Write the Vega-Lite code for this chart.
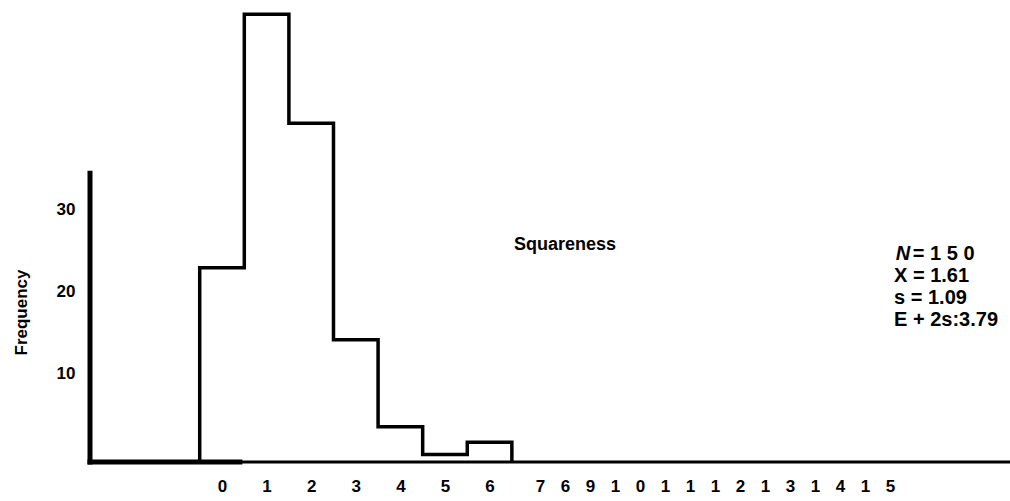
{
  "$schema": "https://vega.github.io/schema/vega-lite/v6.json",
  "width": 920,
  "height": 456,
  "padding": {"left": 90, "top": 6, "right": 0, "bottom": 39},
  "autosize": {"type": "none"},
  "background": "white",
  "config": {"view": {"stroke": null}, "font": "Liberation Sans", "axis": {"labelColor": "black", "titleColor": "black"}},
  "layer": [
    {
      "data": {"values": [
        {"edge": -0.5, "count": 0},
        {"edge": -0.5, "count": 23.7},
        {"edge": 0.5, "count": 54.6},
        {"edge": 1.5, "count": 41.3},
        {"edge": 2.5, "count": 14.9},
        {"edge": 3.5, "count": 4.3},
        {"edge": 4.5, "count": 0.9},
        {"edge": 5.5, "count": 2.4},
        {"edge": 6.5, "count": 0}
      ]},
      "mark": {"type": "line", "interpolate": "step-after", "color": "black", "strokeWidth": 3.5, "strokeJoin": "miter"},
      "encoding": {
        "x": {
          "field": "edge", "type": "quantitative",
          "scale": {"domain": [-2.96, 17.67], "nice": false, "zero": false},
          "axis": {
            "title": null, "grid": false, "ticks": false, "domain": false,
            "values": [0, 1, 2, 3, 4, 5, 6, 7.13, 7.691, 8.251, 8.812, 9.372, 9.933, 10.493, 11.054, 11.614, 12.175, 12.735, 13.296, 13.857, 14.417, 14.978],
            "labelExpr": "['0','1','2','3','4','5','6','7','6','9','1','0','1','1','1','2','1','3','1','4','1','5'][indexof([0, 1, 2, 3, 4, 5, 6, 7.13, 7.691, 8.251, 8.812, 9.372, 9.933, 10.493, 11.054, 11.614, 12.175, 12.735, 13.296, 13.857, 14.417, 14.978], datum.value)]",
            "labelFontSize": 17, "labelFontWeight": "bold", "labelPadding": 16,
            "labelOverlap": false, "labelFlush": false, "labelBound": false
          }
        },
        "y": {
          "field": "count", "type": "quantitative",
          "scale": {"domain": [0, 55.6], "nice": false},
          "axis": {
            "title": "Frequency", "grid": false, "ticks": false, "domain": false,
            "values": [10, 20, 30],
            "labelFontSize": 17, "labelFontWeight": "bold", "labelPadding": 15, "labelOffset": -6,
            "titleFontSize": 17, "titleFontWeight": "bold", "titleAngle": -90,
            "titleX": -69, "titleY": 306, "titleAlign": "center", "titleBaseline": "middle"
          }
        }
      }
    },
    {
      "data": {"values": [{}]},
      "mark": {"type": "rule", "color": "black", "strokeWidth": 5, "strokeCap": "square"},
      "encoding": {"x": {"datum": -2.96, "type": "quantitative"}, "y": {"datum": 0, "type": "quantitative"}, "y2": {"datum": 35.2}}
    },
    {
      "data": {"values": [{}]},
      "mark": {"type": "rule", "color": "black", "strokeWidth": 5, "strokeCap": "square"},
      "encoding": {"x": {"datum": -2.96, "type": "quantitative"}, "x2": {"datum": 0.4}, "y": {"datum": 0, "type": "quantitative"}}
    },
    {
      "data": {"values": [{}]},
      "mark": {"type": "rule", "color": "black", "strokeWidth": 3},
      "encoding": {"x": {"datum": 0.4, "type": "quantitative"}, "x2": {"datum": 17.67}, "y": {"datum": 0, "type": "quantitative"}}
    },
    {
      "data": {"values": [{}]},
      "mark": {"type": "text", "fontSize": 18, "fontWeight": "bold", "align": "center", "baseline": "middle", "color": "black"},
      "encoding": {"x": {"datum": 7.69, "type": "quantitative"}, "y": {"datum": 26.5, "type": "quantitative"}, "text": {"value": "Squareness"}}
    },
    {
      "data": {"values": [{}]},
      "mark": {"type": "text", "fontSize": 20, "fontWeight": "bold", "fontStyle": "italic", "align": "left", "baseline": "alphabetic", "color": "black"},
      "encoding": {"x": {"datum": 15.11, "type": "quantitative"}, "y": {"datum": 24.63, "type": "quantitative"}, "text": {"value": "N"}}
    },
    {
      "data": {"values": [{}]},
      "mark": {"type": "text", "fontSize": 20, "fontWeight": "bold", "align": "left", "baseline": "alphabetic", "color": "black"},
      "encoding": {"x": {"datum": 15.49, "type": "quantitative"}, "y": {"datum": 24.63, "type": "quantitative"}, "text": {"value": "= 1 5 0"}}
    },
    {
      "data": {"values": [{}]},
      "mark": {"type": "text", "fontSize": 20, "fontWeight": "bold", "align": "left", "baseline": "alphabetic", "lineHeight": 22, "color": "black"},
      "encoding": {"x": {"datum": 15.07, "type": "quantitative"}, "y": {"datum": 21.95, "type": "quantitative"}, "text": {"value": ["X = 1.61", "s = 1.09", "E + 2s:3.79"]}}
    }
  ]
}
